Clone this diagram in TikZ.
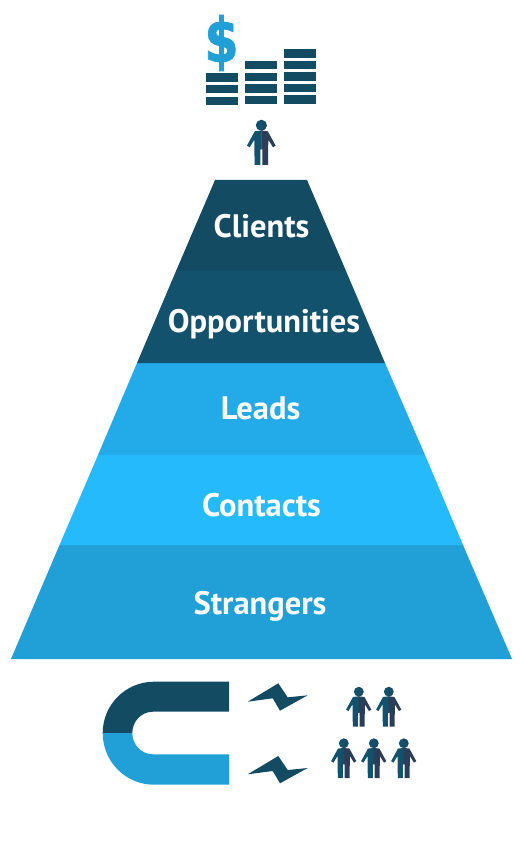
\documentclass[tikz,border=0pt]{standalone}
\usepackage{fontspec}
\setmainfont{PT Sans}
\newfontfamily\dollarfont[BoldFeatures={FakeBold=1.6}]{DejaVu Sans}
\begin{document}
\begin{tikzpicture}[x=1pt, y=-1pt,
        layerlabel/.style={text=white, anchor=base, inner sep=0pt, font=\bfseries\fontsize{32.5}{33}\selectfont},
        coin/.style={fill=magnetdark, minimum width=32.5pt, minimum height=8.5pt, inner sep=0pt},
        bolt/.style={fill=magnetdark},
        person/.pic={
          \fill[personleft] (0,0) circle[radius=5.5];
          \fill[personmid] (0,-5.5) arc[start angle=270, end angle=450, radius=5.5] -- cycle;
          \fill[personleft] (0.2,5.2) -- (-6.5,6) -- (-14.3,20.3) -- (-11.7,22) -- (-7,14.5)
            -- (-6.7,39.7) -- (-1,39.7) -- (-1,24) -- (0.2,24) -- cycle;
          \fill[personright] (0,5.2) -- (6.5,6) -- (14.3,20.3) -- (11.7,22) -- (7,14.5)
            -- (6.7,39.7) -- (1,39.7) -- (1,24) -- (0,24) -- cycle;
        }]
      \definecolor{clients}{HTML}{134B63}
      \definecolor{opportunities}{HTML}{12526D}
      \definecolor{leads}{HTML}{22AAE9}
      \definecolor{contacts}{HTML}{25BAFC}
      \definecolor{strangers}{HTML}{20A0D6}
      \definecolor{magnetdark}{HTML}{134B63}
      \definecolor{personleft}{HTML}{12526D}
      \definecolor{personmid}{HTML}{1B4A65}
      \definecolor{personright}{HTML}{2C3E57}
      \useasboundingbox (0,0) rectangle (528,853);
      % pyramid
      \fill[strangers] (59.5,545) -- (463,545) -- (512,659) -- (11,659) -- cycle;
      \fill[contacts] (98,455) -- (425,455) -- (463,545) -- (59.5,545) -- cycle;
      \fill[leads] (137,363) -- (385,363) -- (425,455) -- (98,455) -- cycle;
      \fill[opportunities] (176,271) -- (346,271) -- (385,363) -- (137,363) -- cycle;
      \fill[clients] (215,180) -- (307,180) -- (346,271) -- (176,271) -- cycle;
      \node[layerlabel] (clients) at (261.5,237) {Clients};
      \node[layerlabel] (opportunities) at (264,332) {Opportunities};
      \node[layerlabel] (leads) at (260.5,419) {Leads};
      \node[layerlabel] (contacts) at (261.5,516) {Contacts};
      \node[layerlabel] (strangers) at (260,614) {Strangers};
      % money
      \node[text=strangers, inner sep=0pt, transform shape, yscale=1.25,
        font=\dollarfont\fontsize{49}{49}\selectfont\bfseries] (dollar) at (221.5,43) {\$};
      \node[coin] (a1) at (222,77.5) {};
      \node[coin] (a2) at (222,89) {};
      \node[coin] (a3) at (222,101) {};
      \node[coin] (b1) at (261,65) {};
      \node[coin] (b2) at (261,77) {};
      \node[coin] (b3) at (261,88.5) {};
      \node[coin] (b4) at (261,100) {};
      \node[coin] (c1) at (300,53.5) {};
      \node[coin] (c2) at (300,65) {};
      \node[coin] (c3) at (300,76.5) {};
      \node[coin] (c4) at (300,88) {};
      \node[coin] (c5) at (300,99.5) {};
      % people
      \pic at (261.3,125.3) {person};
      \pic[scale=0.88] at (358.7,691.7) {person};
      \pic[scale=0.88] at (388.7,691.7) {person};
      \pic[scale=0.88] at (343.7,743.3) {person};
      \pic[scale=0.88] at (373.7,743.3) {person};
      \pic[scale=0.88] at (403.7,743.3) {person};
      % magnet
      \fill[magnetdark] (229,681.7) -- (154,681.7) .. controls (125.7,681.7) and (102.7,704.7) .. (102.7,733)
        -- (132.3,733) .. controls (132.3,721.3) and (141.3,711.7) .. (153,711.7) -- (229,711.7) -- cycle;
      \fill[strangers] (229,784.7) -- (154,784.7) .. controls (125.7,784.7) and (102.7,761.7) .. (102.7,733)
        -- (132.3,733) .. controls (132.3,744.7) and (141.3,754.3) .. (153,754.3) -- (229,754.3) -- cycle;
      % sparks
      \fill[bolt] (247.7,701.7) -- (278.3,683.3) -- (287.7,697.3) -- (307.7,695.3) -- (280,710.7) -- (272.7,698.3) -- cycle;
      \fill[bolt] (247.7,774.3) -- (278.3,756) -- (287.7,770) -- (307.7,768) -- (280,783.3) -- (272.7,771) -- cycle;
    \end{tikzpicture}
\end{document}
